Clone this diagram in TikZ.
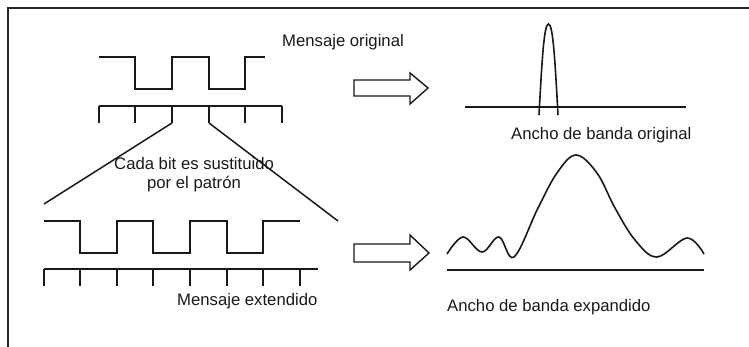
\documentclass[tikz,border=0pt]{standalone}
\usepackage{fontspec}
\setmainfont{Liberation Sans}
\begin{document}
\begin{tikzpicture}[x=1pt,y=-1pt,
  wave/.style={line width=1.8pt,line join=miter,draw=black!90},
  frame/.style={line width=2pt,draw=black!85},
  blockarrow/.style={line width=1.4pt,line join=miter,fill=white,draw=black!90},
  lbl/.style={font=\fontsize{16.7}{19}\selectfont,inner sep=0pt,anchor=base west,text=black!90}]
\useasboundingbox (0,0) rectangle (749,347);
% frame (top and left edges)
\draw[frame] (749,8) -- (8,8) -- (8,347);
% original message square wave
\draw[wave] (99,57) -- (135,57) -- (135,89) -- (172,89) -- (172,57) -- (209,57) -- (209,89) -- (245,89) -- (245,57) -- (265,57);
% original bit ticks
\draw[wave] (99,106) -- (282,106);
\foreach \x in {99,135,172,209,245,282} \draw[wave] (\x,106) -- (\x,123);
% expansion lines
\coordinate (tl) at (172,123);
\coordinate (tr) at (209,123);
\coordinate (bl) at (44,204);
\coordinate (br) at (338,221);
\draw[line width=1.5pt,draw=black!90] (tl) -- (bl);
\draw[line width=1.5pt,draw=black!90] (tr) -- (br);
% extended message square wave
\draw[wave] (44,221) -- (80,221) -- (80,253) -- (117,253) -- (117,221) -- (153,221) -- (153,253) -- (190,253) -- (190,221) -- (227,221) -- (227,253) -- (263,253) -- (263,221) -- (300,221);
% extended ticks
\draw[wave] (44,269) -- (318,269);
\foreach \x in {44,80,117,153,190,227,263,300} \draw[wave] (\x,269) -- (\x,286);
% labels
\node[lbl] (mo) at (282,47) {Mensaje original};
\node[lbl] (cb1) at (114,170) {Cada bit es sustituido};
\node[lbl,anchor=base] (cb2) at (194,189) {por el patrón};
\node[lbl] (me) at (177,305) {Mensaje extendido};
\node[lbl] (abo) at (511,140) {Ancho de banda original};
\node[lbl] (abe) at (447,311) {Ancho de banda expandido};
% block arrows
\draw[blockarrow] (354,80) -- (410,80) -- (410,73) -- (428,88) -- (410,104) -- (410,96) -- (354,96) -- cycle;
\draw[blockarrow] (354,244) -- (410,244) -- (410,235) -- (429,253) -- (410,270) -- (410,262) -- (354,262) -- cycle;
% original spectrum
\draw[wave] (465,107) -- (686,107);
\draw[line width=1.6pt,draw=black!90] (539,115) .. controls (542,60) and (544,24) .. (548.5,24) .. controls (553,24) and (555,60) .. (558,115);
% expanded spectrum
\draw[wave] (447,270) -- (704,270);
\draw[line width=1.6pt,draw=black!90] plot[smooth,tension=0.6] coordinates {(447,254) (463,237) (482,252) (499,237) (514,257) (538,208) (557,173) (576,155) (597,173) (615,208) (635,240) (657,257) (687,238) (704,254)};
\end{tikzpicture}
\end{document}
